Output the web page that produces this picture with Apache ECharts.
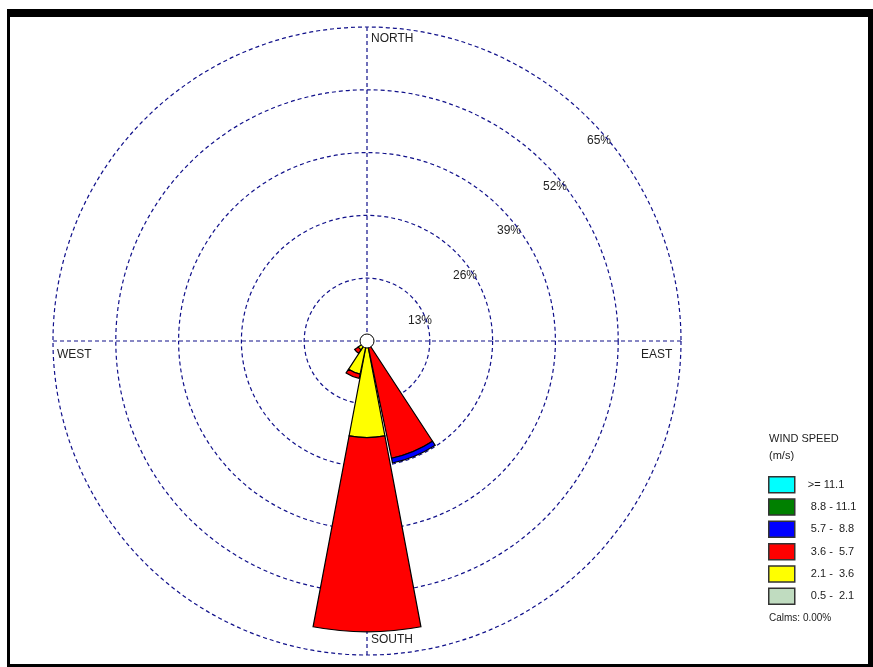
<!DOCTYPE html>
<html><head><meta charset="utf-8">
<script src="https://cdn.jsdelivr.net/npm/echarts@6/dist/echarts.min.js"></script>
<style>
html,body{margin:0;padding:0;background:#fff;}
#c{position:absolute;left:0;top:0;width:873px;height:667px;}
#frame{position:absolute;left:7px;top:9px;width:858px;height:647px;border-style:solid;border-color:#000;border-width:8px 5px 3px 3px;pointer-events:none;z-index:10;}
</style></head>
<body>
<div id="c"></div>
<div id="frame"></div>
<script>
// Wind directions (16 sectors)
const directions = ['N','NNE','NE','ENE','E','ESE','SE','SSE','S','SSW','SW','WSW','W','WNW','NW','NNW'];
// Frequency (%) per wind speed class, per direction
const speed_05_21  = [0,0,0,0,0,0,0,0,   0,   0,   0,  0,0,0,0,0];
const speed_21_36  = [0,0,0,0,0,0,0,1.0, 20.0, 7.0, 2.2,0,0,0,0,0];
const speed_36_57  = [0,0,0,0,0,0,0,23.8,40.2, 0.9, 0.9,0,0,0,0,0];
const speed_57_88  = [0,0,0,0,0,0,0,1.0, 0,    0,   0,  0,0,0,0,0];
const speed_88_111 = [0,0,0,0,0,0,0,0,   0,    0,   0,  0,0,0,0,0];
const speed_ge_111 = [0,0,0,0,0,0,0,0,   0,    0,   0,  0,0,0,0,0];
const ringTicks = [13, 26, 39, 52, 65];
const classNames = [' 0.5 -  2.1',' 2.1 -  3.6',' 3.6 -  5.7',' 5.7 -  8.8',' 8.8 - 11.1','>= 11.1'];
const classColors = ['#C0DCC0','#FFFF00','#FF0000','#0000FF','#008000','#00FFFF'];
const classData = [speed_05_21, speed_21_36, speed_36_57, speed_57_88, speed_88_111, speed_ge_111];

const chart = echarts.init(document.getElementById('c'), null, {renderer:'canvas'});
const CX = 367, CY = 341, R = 314;
const dash = {color:'#10108a', width:1.2, type:[4,3]};
const txt = {fontFamily:'Liberation Sans', fontSize:12, fill:'#222'};

const series = classData.map((arr, i) => ({
  type:'bar', coordinateSystem:'polar', polarIndex:0, stack:'ws', name:classNames[i],
  barCategoryGap:'5%',
  itemStyle:{color:classColors[i], borderColor:'#000', borderWidth:1.2},
  data: arr.map(v => v === 0 ? null : v),
  z:3
}));
series.push({
  type:'scatter', coordinateSystem:'polar', polarIndex:0, symbolSize:14,
  itemStyle:{color:'#ffffff', opacity:1, borderColor:'#000', borderWidth:1},
  data:[[0,'N']], z:5, silent:true
});

const ringLabelPos = [[432,321],[477,276],[521,231],[567,187],[611,141]];
const graphics = [
  {type:'text', left:371, top:33, style:Object.assign({text:'NORTH'}, txt)},
  {type:'text', left:371, top:634, style:Object.assign({text:'SOUTH'}, txt)},
  {type:'text', left:57, top:349, style:Object.assign({text:'WEST'}, txt)},
  {type:'text', left:641, top:349, style:Object.assign({text:'EAST'}, txt)},
  {type:'text', left:769, top:433, style:{text:'WIND SPEED', fontFamily:'Liberation Sans', fontSize:11, fill:'#222'}},
  {type:'text', left:769, top:450, style:{text:'(m/s)', fontFamily:'Liberation Sans', fontSize:11, fill:'#222'}},
  {type:'text', left:769, top:613, style:{text:'Calms: 0.00%', fontFamily:'Liberation Sans', fontSize:10, fill:'#222'}}
];
ringTicks.forEach((t, i) => {
  graphics.push({type:'text', x:ringLabelPos[i][0], y:ringLabelPos[i][1],
    style:Object.assign({text:t+'%', align:'right', verticalAlign:'middle'}, txt)});
});

chart.setOption({
  animation:false,
  backgroundColor:'#fff',
  polar:[
    {center:[CX,CY], radius:R},
    {center:[CX,CY], radius:R}
  ],
  angleAxis:[
    {polarIndex:0, type:'category', data:directions, startAngle:90+11.25, clockwise:true,
     boundaryGap:true, axisLine:{show:false}, axisTick:{show:false}, axisLabel:{show:false}, splitLine:{show:false}},
    {polarIndex:1, type:'value', min:0, max:360, interval:90, startAngle:90,
     axisLine:{show:false}, axisTick:{show:false}, axisLabel:{show:false}, splitLine:{show:true, lineStyle:dash}}
  ],
  radiusAxis:[
    {polarIndex:0, type:'value', min:0, max:65, interval:13,
     axisLine:{show:false}, axisTick:{show:false}, axisLabel:{show:false}, splitLine:{show:true, lineStyle:dash}},
    {polarIndex:1, type:'value', min:0, max:65, interval:65,
     axisLine:{show:false}, axisTick:{show:false}, axisLabel:{show:false}, splitLine:{show:false}}
  ],
  legend:{
    orient:'vertical', left:768, top:476, padding:0, itemWidth:26, itemHeight:16, itemGap:4.8,
    icon:'rect', selectedMode:false,
    data: classNames.slice().reverse(),
    itemStyle:{borderColor:'#333', borderWidth:1.5},
    textStyle:{fontFamily:'Liberation Sans', fontSize:11, color:'#222', padding:[0,0,0,8], lineHeight:16}
  },
  series: series,
  graphic: graphics
});
</script>
</body></html>
